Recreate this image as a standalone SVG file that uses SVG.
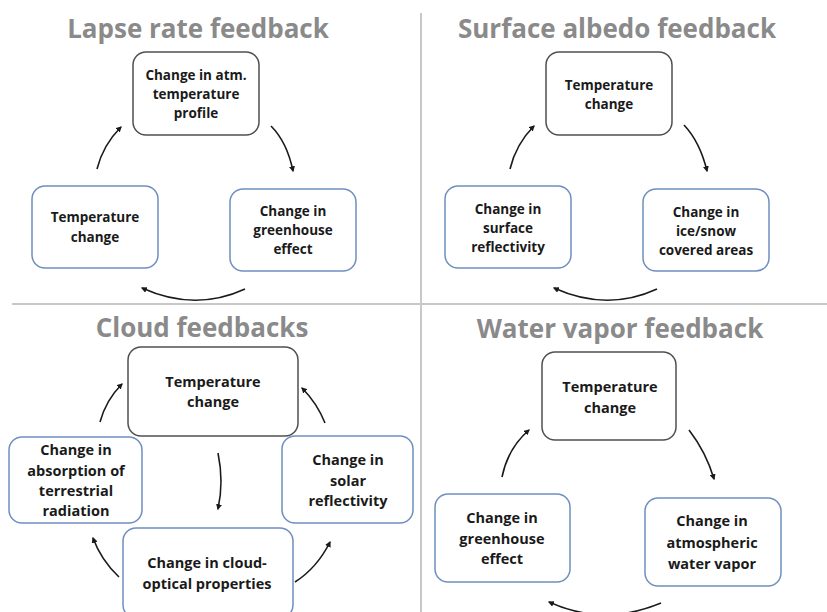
<svg xmlns="http://www.w3.org/2000/svg" width="827" height="612" viewBox="0 0 827 612">
<defs>
<marker id="ah" viewBox="0 0 10 10" refX="8" refY="5" markerWidth="6" markerHeight="6" orient="auto" markerUnits="userSpaceOnUse">
<path d="M0,0 L10,5 L0,10 z" fill="#1a1a1a"/>
</marker>
<style>
.title{font-family:"Open Sans","Liberation Sans",sans-serif;font-weight:bold;font-size:26px;fill:#8a8a8a;text-anchor:middle}
.t{font-family:"Open Sans","Liberation Sans",sans-serif;font-weight:bold;font-size:13.5px;fill:#1a1a1a;text-anchor:middle}
.tb{font-family:"Open Sans","Liberation Sans",sans-serif;font-weight:bold;font-size:14.5px;fill:#1a1a1a;text-anchor:middle}
.ng{fill:#fff;stroke:#505050;stroke-width:1.5}
.nb{fill:#fff;stroke:#6f8fbf;stroke-width:1.5}
.c{fill:none;stroke:#1a1a1a;stroke-width:1.6;marker-end:url(#ah)}
.div{stroke:#c8c8c8;stroke-width:2}
</style>
</defs>
<rect width="827" height="612" fill="#fff"/>
<g id="dividers">
<line class="div" x1="421" y1="13" x2="421" y2="612"/>
<line class="div" x1="12" y1="304" x2="827" y2="304"/>
</g>
<g id="titles">
<text class="title" x="198" y="38">Lapse rate feedback</text>
<text class="title" x="617" y="38">Surface albedo feedback</text>
<text class="title" x="202" y="337">Cloud feedbacks</text>
<text class="title" x="620" y="338">Water vapor feedback</text>
</g>
<g id="connectors">
<path class="c" d="M271,126 Q287,142 293,171"/>
<path class="c" d="M97,169 Q103,145 121,127"/>
<path class="c" d="M245,289 Q195,312 142,288"/>
<path class="c" d="M684,125 Q700,142 707,171"/>
<path class="c" d="M510,169 Q516,144 534,126"/>
<path class="c" d="M657,289 Q607,312 554,288"/>
<path class="c" d="M100,422 Q106,400 122,384"/>
<path class="c" d="M325,423 Q317,403 302,388"/>
<path class="c" d="M218,453 Q224,482 218,509"/>
<path class="c" d="M119,577 Q101,560 93,538"/>
<path class="c" d="M295,582 Q317,568 330,542"/>
<path class="c" d="M502,477 Q508,448 529,430"/>
<path class="c" d="M689,430 Q706,452 714,479"/>
<path class="c" d="M661,603 Q604,627 549,602"/>
</g>
<g id="lr-top">
<rect class="ng" x="133" y="52" width="126" height="83" rx="13"/>
<text class="t" x="196" y="80">Change in atm.</text>
<text class="t" x="196" y="99">temperature</text>
<text class="t" x="196" y="118">profile</text>
</g>
<g id="lr-left">
<rect class="nb" x="32" y="186" width="126" height="82" rx="13"/>
<text class="t" x="95" y="222">Temperature</text>
<text class="t" x="95" y="242">change</text>
</g>
<g id="lr-right">
<rect class="nb" x="230" y="189" width="126" height="82" rx="13"/>
<text class="t" x="293" y="216">Change in</text>
<text class="t" x="293" y="235">greenhouse</text>
<text class="t" x="293" y="254">effect</text>
</g>
<g id="sa-top">
<rect class="ng" x="546" y="52" width="126" height="83" rx="13"/>
<text class="t" x="609" y="90">Temperature</text>
<text class="t" x="609" y="109">change</text>
</g>
<g id="sa-left">
<rect class="nb" x="445" y="186" width="126" height="82" rx="13"/>
<text class="t" x="508" y="214">Change in</text>
<text class="t" x="508" y="233">surface</text>
<text class="t" x="508" y="252">reflectivity</text>
</g>
<g id="sa-right">
<rect class="nb" x="643" y="189" width="126" height="82" rx="13"/>
<text class="t" x="706" y="217">Change in</text>
<text class="t" x="706" y="236">ice/snow</text>
<text class="t" x="706" y="255">covered areas</text>
</g>
<g id="cf-top">
<rect class="ng" x="128" y="347" width="170" height="89" rx="13"/>
<text class="tb" x="213" y="387">Temperature</text>
<text class="tb" x="213" y="407">change</text>
</g>
<g id="cf-left">
<rect class="nb" x="9" y="437" width="133" height="86" rx="13"/>
<text class="tb" x="76" y="455">Change in</text>
<text class="tb" x="76" y="476">absorption of</text>
<text class="tb" x="76" y="496">terrestrial</text>
<text class="tb" x="76" y="516">radiation</text>
</g>
<g id="cf-right">
<rect class="nb" x="282" y="436" width="131" height="87" rx="13"/>
<text class="tb" x="348" y="465">Change in</text>
<text class="tb" x="348" y="486">solar</text>
<text class="tb" x="348" y="506">reflectivity</text>
</g>
<g id="cf-bottom">
<rect class="nb" x="123" y="528" width="170" height="90" rx="13"/>
<text class="tb" x="207" y="568">Change in cloud-</text>
<text class="tb" x="207" y="589">optical properties</text>
</g>
<g id="wv-top">
<rect class="ng" x="542" y="352" width="134" height="88" rx="13"/>
<text class="tb" x="610" y="392">Temperature</text>
<text class="tb" x="610" y="413">change</text>
</g>
<g id="wv-left">
<rect class="nb" x="435" y="494" width="135" height="88" rx="13"/>
<text class="tb" x="502" y="523">Change in</text>
<text class="tb" x="502" y="544">greenhouse</text>
<text class="tb" x="502" y="564">effect</text>
</g>
<g id="wv-right">
<rect class="nb" x="645" y="498" width="136" height="88" rx="13"/>
<text class="tb" x="712" y="526">Change in</text>
<text class="tb" x="712" y="548">atmospheric</text>
<text class="tb" x="712" y="569">water vapor</text>
</g>
</svg>
